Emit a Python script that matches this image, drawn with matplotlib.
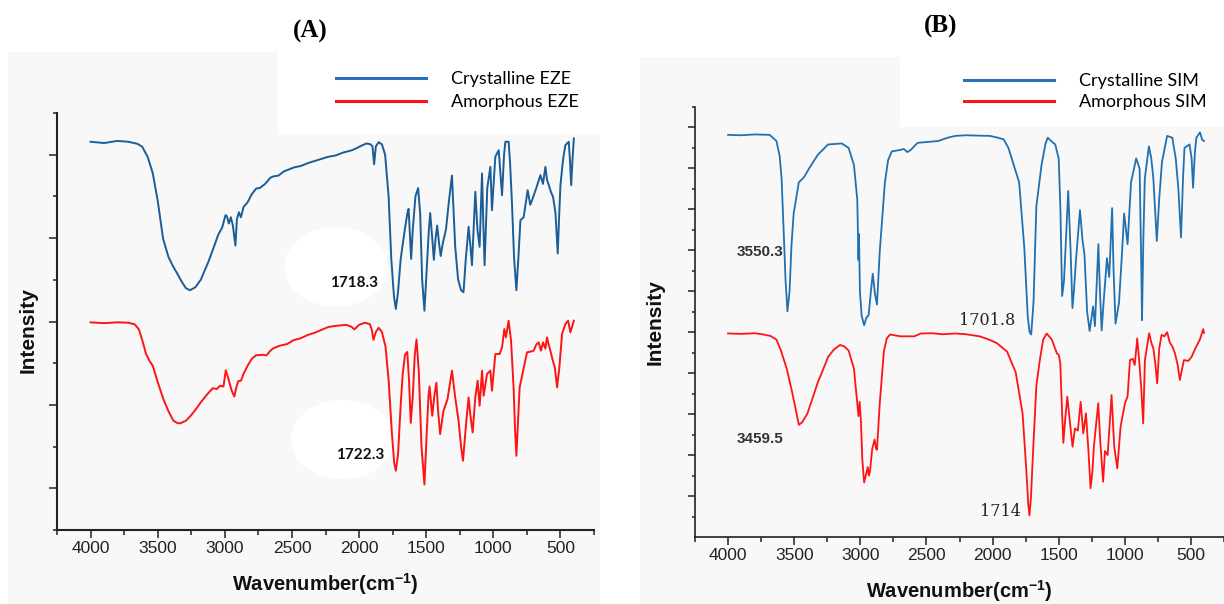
import matplotlib.pyplot as plt
from matplotlib.patches import Rectangle, Ellipse
from matplotlib.lines import Line2D
from matplotlib.ticker import MultipleLocator, FixedLocator

# FTIR spectra: (wavenumber cm-1, offset intensity)

eze_cryst = [
    (4000, 9.31), (3900, 9.28), (3800, 9.33), (3717, 9.31), (3650, 9.26), (3615, 9.19), (3575, 8.95),
    (3537, 8.56), (3500, 7.9), (3460, 6.99), (3420, 6.55), (3390, 6.35), (3358, 6.17), (3320, 5.95),
    (3290, 5.8), (3260, 5.75), (3220, 5.82), (3179, 6.0), (3120, 6.45), (3080, 6.8), (3049, 7.08),
    (3020, 7.25), (2995, 7.55), (2985, 7.53), (2970, 7.35), (2955, 7.5), (2940, 7.3), (2921, 6.82),
    (2910, 7.45), (2895, 7.62), (2880, 7.5), (2860, 7.75), (2830, 7.86), (2800, 8.05), (2766, 8.19),
    (2740, 8.2), (2700, 8.3), (2660, 8.45), (2638, 8.48), (2600, 8.5), (2560, 8.6), (2520, 8.65),
    (2480, 8.7), (2433, 8.73), (2380, 8.8), (2330, 8.85), (2280, 8.9), (2230, 8.95), (2176, 8.98),
    (2120, 9.05), (2060, 9.1), (2022, 9.15), (1980, 9.22), (1944, 9.27), (1915, 9.25), (1900, 9.2),
    (1888, 8.77), (1875, 9.2), (1854, 9.3), (1830, 9.25), (1806, 9.0), (1780, 8.0), (1760, 6.5),
    (1740, 5.6), (1726, 5.3), (1710, 5.7), (1690, 6.5), (1664, 7.1), (1640, 7.6), (1631, 7.7),
    (1620, 7.0), (1612, 6.5), (1600, 7.2), (1580, 8.0), (1560, 8.2), (1545, 7.6), (1530, 6.0),
    (1513, 5.26), (1495, 6.3), (1480, 7.2), (1470, 7.6), (1455, 7.0), (1443, 6.48), (1430, 7.0),
    (1418, 7.3), (1405, 6.9), (1392, 6.57), (1375, 6.9), (1353, 7.2), (1330, 7.9), (1308, 8.5),
    (1295, 7.6), (1284, 6.8), (1262, 6.0), (1240, 5.75), (1222, 5.7), (1205, 6.5), (1184, 7.27),
    (1170, 6.8), (1159, 6.35), (1134, 8.11), (1118, 7.2), (1102, 6.79), (1084, 8.55), (1075, 7.4),
    (1065, 6.35), (1045, 8.2), (1022, 8.71), (1010, 7.67), (985, 8.95), (960, 9.11), (948, 8.6),
    (935, 8.03), (920, 9.0), (910, 9.31), (886, 9.31), (875, 8.8), (861, 7.83), (845, 6.5),
    (828, 5.75), (812, 6.6), (798, 7.43), (774, 7.5), (744, 8.15), (725, 7.8), (711, 7.91),
    (680, 8.2), (649, 8.51), (630, 8.3), (612, 8.71), (600, 8.4), (587, 8.27), (570, 8.1),
    (555, 7.99), (537, 7.6), (520, 6.63), (510, 7.5), (500, 8.27), (480, 8.9), (463, 9.23),
    (438, 9.31), (428, 8.8), (420, 8.27), (410, 8.9), (400, 9.39),
]

eze_amorph = [
    (4000, 4.98), (3900, 4.96), (3800, 4.98), (3717, 4.97), (3670, 4.93), (3640, 4.81), (3610, 4.5),
    (3588, 4.23), (3560, 4.05), (3537, 3.94), (3500, 3.55), (3460, 3.16), (3420, 2.85), (3383, 2.62),
    (3350, 2.56), (3331, 2.56), (3290, 2.62), (3254, 2.74), (3210, 2.92), (3177, 3.07), (3140, 3.22),
    (3113, 3.32), (3090, 3.4), (3060, 3.38), (3035, 3.46), (3010, 3.44), (2993, 3.83), (2975, 3.65),
    (2950, 3.35), (2929, 3.2), (2912, 3.45), (2900, 3.57), (2880, 3.58), (2860, 3.75), (2830, 3.94),
    (2800, 4.1), (2767, 4.19), (2720, 4.2), (2689, 4.19), (2660, 4.3), (2638, 4.36), (2590, 4.42),
    (2535, 4.46), (2490, 4.55), (2433, 4.6), (2380, 4.68), (2330, 4.73), (2280, 4.8), (2227, 4.87),
    (2160, 4.9), (2099, 4.92), (2060, 4.88), (2035, 4.81), (2000, 4.92), (1957, 4.97), (1920, 4.94),
    (1905, 4.8), (1893, 4.56), (1875, 4.75), (1854, 4.85), (1830, 4.75), (1803, 4.4), (1780, 3.6),
    (1755, 2.3), (1738, 1.6), (1726, 1.42), (1710, 1.8), (1690, 3.0), (1675, 3.74), (1658, 4.2),
    (1641, 4.27), (1628, 3.6), (1615, 2.57), (1600, 3.2), (1585, 4.2), (1572, 4.57), (1555, 3.8),
    (1535, 2.0), (1513, 1.09), (1495, 2.4), (1483, 3.2), (1475, 3.44), (1462, 3.0), (1455, 2.74),
    (1440, 3.2), (1424, 3.53), (1410, 2.8), (1396, 2.3), (1371, 2.86), (1341, 3.14), (1308, 3.82),
    (1284, 3.18), (1259, 2.62), (1240, 2.0), (1226, 1.66), (1201, 2.62), (1184, 3.18), (1172, 2.78),
    (1154, 2.34), (1134, 3.18), (1117, 3.58), (1102, 2.98), (1084, 3.82), (1072, 3.22), (1047, 3.74),
    (1022, 3.82), (1010, 3.34), (985, 4.22), (953, 4.22), (935, 4.38), (918, 4.82), (906, 4.62),
    (886, 5.02), (868, 4.54), (849, 3.42), (838, 2.4), (828, 1.78), (816, 2.6), (804, 3.42),
    (778, 3.82), (749, 4.26), (720, 4.28), (699, 4.3), (680, 4.45), (662, 4.5), (645, 4.3),
    (630, 4.5), (612, 4.35), (600, 4.62), (588, 4.45), (575, 4.3), (560, 4.1), (542, 3.9),
    (525, 3.42), (508, 3.9), (488, 4.7), (463, 4.94), (443, 5.02), (426, 4.74), (400, 5.02),
]

sim_cryst = [
    (4000, 19.64), (3900, 19.62), (3800, 19.66), (3686, 19.64), (3634, 19.34), (3610, 18.6),
    (3595, 17.49), (3580, 15.0), (3565, 12.5), (3551, 11.02), (3535, 12.0), (3520, 14.3),
    (3504, 15.8), (3465, 17.32), (3426, 17.57), (3388, 17.99), (3322, 18.66), (3244, 19.17),
    (3140, 19.22), (3088, 19.0), (3048, 18.16), (3023, 16.48), (3014, 13.54), (3010, 14.8),
    (3003, 12.0), (2990, 10.8), (2971, 10.34), (2955, 10.7), (2937, 10.84), (2920, 12.0),
    (2906, 12.86), (2890, 11.9), (2874, 11.35), (2853, 13.95), (2814, 17.32), (2790, 18.4),
    (2762, 18.83), (2700, 18.9), (2671, 18.95), (2645, 18.8), (2619, 18.9), (2567, 19.25),
    (2480, 19.3), (2410, 19.34), (2340, 19.5), (2280, 19.59), (2200, 19.62), (2100, 19.6),
    (2020, 19.59), (1960, 19.5), (1916, 19.42), (1880, 19.0), (1851, 18.4), (1799, 17.32),
    (1760, 14.13), (1734, 10.76), (1720, 10.0), (1708, 9.89), (1690, 11.5), (1669, 16.14),
    (1630, 18.16), (1600, 19.2), (1583, 19.5), (1550, 19.3), (1526, 19.17), (1500, 18.49),
    (1487, 16.0), (1474, 11.77), (1460, 12.5), (1448, 14.13), (1428, 16.9), (1410, 14.0),
    (1396, 11.18), (1385, 12.0), (1370, 13.45), (1339, 15.97), (1320, 14.5), (1305, 13.79),
    (1285, 11.0), (1266, 10.06), (1240, 11.26), (1226, 10.3), (1200, 14.3), (1188, 12.0),
    (1175, 10.09), (1160, 11.5), (1135, 13.62), (1118, 12.7), (1096, 16.06), (1085, 13.0),
    (1070, 10.42), (1044, 11.44), (1020, 14.0), (1005, 15.8), (979, 14.3), (953, 17.32),
    (914, 18.49), (888, 17.99), (875, 13.0), (870, 10.59), (860, 14.5), (849, 17.49),
    (818, 19.08), (800, 18.5), (784, 17.49), (758, 14.46), (740, 16.5), (719, 18.32),
    (680, 19.59), (641, 19.5), (615, 18.49), (595, 17.0), (575, 14.63), (560, 17.5),
    (549, 19.0), (511, 19.17), (495, 18.5), (484, 17.06), (470, 18.8), (459, 19.5),
    (432, 19.76), (415, 19.4), (401, 19.34),
]

sim_amorph = [
    (4000, 9.94), (3900, 9.92), (3800, 9.95), (3740, 9.9), (3680, 9.82), (3634, 9.64), (3600, 9.1),
    (3556, 8.21), (3520, 7.2), (3487, 6.19), (3465, 5.48), (3440, 5.6), (3400, 6.03), (3360, 6.8),
    (3322, 7.54), (3280, 8.2), (3243, 8.8), (3200, 9.15), (3153, 9.38), (3120, 9.3), (3088, 9.1),
    (3048, 8.21), (3023, 6.53), (3014, 5.9), (3005, 6.6), (2995, 5.6), (2985, 3.8), (2971, 2.66),
    (2955, 3.1), (2944, 3.42), (2935, 3.0), (2927, 3.2), (2910, 4.3), (2892, 4.76), (2880, 4.3),
    (2874, 4.26), (2853, 6.53), (2822, 9.05), (2800, 9.7), (2775, 9.89), (2740, 9.85), (2697, 9.8),
    (2650, 9.8), (2593, 9.8), (2541, 9.94), (2450, 9.95), (2380, 9.9), (2280, 9.94), (2200, 9.9),
    (2098, 9.8), (2030, 9.65), (1968, 9.47), (1890, 9.05), (1825, 8.04), (1773, 6.03), (1747, 3.5),
    (1730, 1.6), (1721, 1.06), (1710, 1.9), (1695, 4.0), (1669, 7.37), (1643, 8.63), (1617, 9.64),
    (1591, 9.94), (1552, 9.64), (1513, 8.96), (1500, 8.9), (1488, 8.5), (1475, 6.2), (1465, 4.6),
    (1450, 5.8), (1435, 6.85), (1415, 5.6), (1395, 4.41), (1377, 5.3), (1355, 5.2), (1334, 6.6),
    (1314, 5.06), (1294, 6.04), (1275, 4.2), (1259, 2.38), (1245, 3.2), (1234, 4.41), (1201, 6.53),
    (1185, 4.6), (1164, 2.7), (1150, 4.2), (1130, 4.0), (1100, 6.93), (1080, 4.41), (1057, 3.35),
    (1032, 5.39), (999, 6.53), (979, 6.87), (961, 8.64), (940, 8.7), (925, 8.4), (906, 9.7),
    (890, 8.5), (875, 7.2), (861, 5.55), (848, 8.64), (816, 9.95), (800, 9.5), (784, 9.21),
    (770, 8.5), (755, 7.5), (740, 9.2), (722, 9.87), (700, 9.8), (680, 10.0), (660, 9.5),
    (640, 9.3), (621, 8.97), (600, 8.4), (584, 7.67), (553, 8.64), (520, 8.6), (495, 8.8),
    (470, 9.16), (432, 9.65), (407, 10.15), (401, 9.97),
]

legend_a = ["Crystalline EZE", "Amorphous EZE"]
legend_b = ["Crystalline SIM", "Amorphous SIM"]

# peak labels: (text, wavenumber, intensity)
peaks_a = [("1718.3", 2041, 5.93), ("1722.3", 1993, 1.79)]
peaks_b_sans = [("3550.3", 3932, 13.9), ("3459.5", 3932, 4.78)]
peaks_b_serif = [("1701.8", 2042, 10.55), ("1714", 1944, 1.25)]

xticks = [4000, 3500, 3000, 2500, 2000, 1500, 1000, 500]

plt.rcParams['font.family'] = ['Liberation Sans', 'DejaVu Sans']
plt.rcParams['mathtext.fontset'] = 'custom'
plt.rcParams['mathtext.bf'] = 'Liberation Sans:bold'
plt.rcParams['mathtext.rm'] = 'Liberation Sans:bold'
plt.rcParams['mathtext.default'] = 'bf'

W, H = 1224, 604
fig = plt.figure(figsize=(W / 100, H / 100), dpi=100)


def px_rect(x0, y0, x1, y1):
    return [x0 / W, 1 - y1 / H, (x1 - x0) / W, (y1 - y0) / H]


def add_bg(x0, y0, x1, y1, color, z):
    r = px_rect(x0, y0, x1, y1)
    fig.add_artist(Rectangle((r[0], r[1]), r[2], r[3], transform=fig.transFigure,
                             facecolor=color, edgecolor='none', zorder=z))


# grey panel backgrounds and white legend boxes
add_bg(8, 52, 600, 604, '#f8f8f8', -5)
add_bg(278, 52, 600, 134, 'white', -4)
add_bg(640, 57, 1224, 604, '#f8f8f8', -5)
add_bg(900, 57, 1224, 127, 'white', -4)

blue_a, blue_b, red = '#1a5d98', '#2170b0', '#ff1414'


def style_axes(ax, ymax, ymaj, ymin, spine_w, ylen):
    ax.set_facecolor('none')
    for s in ['top', 'right']:
        ax.spines[s].set_visible(False)
    for s in ['left', 'bottom']:
        ax.spines[s].set_linewidth(spine_w)
        ax.spines[s].set_color('#222222')
    ax.set_xlim(4250, 250)
    ax.set_ylim(0, ymax)
    ax.xaxis.set_major_locator(FixedLocator(xticks))
    ax.xaxis.set_minor_locator(MultipleLocator(250))
    ax.yaxis.set_major_locator(FixedLocator(ymaj))
    ax.yaxis.set_minor_locator(FixedLocator(ymin))
    ax.tick_params(axis='x', which='major', direction='out', length=5.5, width=1.1,
                   color='#222222', labelsize=12.5, labelcolor='#222222', pad=2.5)
    ax.tick_params(axis='x', which='minor', direction='out', length=3.5, width=1.1, color='#222222')
    ax.tick_params(axis='y', which='major', direction='out', length=ylen, width=1.1,
                   color='#222222', labelleft=False)
    ax.tick_params(axis='y', which='minor', direction='out', length=ylen * 0.45, width=1.1,
                   color='#222222')
    ax.set_xlabel('Wavenumber(cm$^{-1}$)', fontsize=14.5, fontweight='bold', color='#111111')
    ax.set_ylabel('Intensity', fontsize=15, fontweight='bold', color='#111111')


# panel A
ax1 = fig.add_axes(px_rect(57, 113, 594, 530))
style_axes(ax1, 10, [1, 3, 5, 7, 9], [0, 2, 4, 6, 8, 10], 1.5, 5.8)
ax1.plot([p[0] for p in eze_cryst], [p[1] for p in eze_cryst], color=blue_a, lw=1.4, zorder=3)
ax1.plot([p[0] for p in eze_amorph], [p[1] for p in eze_amorph], color=red, lw=1.4, zorder=3)
for label, wn, val in peaks_a:
    ax1.add_patch(Ellipse((wn + 130, val + 0.38), 770, 1.9, facecolor='white',
                          edgecolor='none', zorder=1))
    ax1.text(wn, val, label, ha='center', va='center', fontsize=11, fontweight='bold',
             family=['Lato', 'DejaVu Sans'], color='#111111', zorder=4)
ax1.xaxis.set_label_coords(0.5, -0.098)
ax1.yaxis.set_label_coords(-0.037, 0.48)
ax1.legend(handles=[Line2D([], [], color='#2a72b8', lw=2.2), Line2D([], [], color=red, lw=2.2)],
           labels=legend_a, loc='upper right', bbox_to_anchor=(588 / W, 1 - 62 / H),
           bbox_transform=fig.transFigure, frameon=False, handlelength=5.0, handletextpad=1.4,
           labelspacing=0.38, borderpad=0, prop={'family': ['Lato', 'DejaVu Sans'], 'size': 13})
fig.text(310 / W, 1 - 31 / H, '(A)', ha='center', va='center', fontsize=18, fontweight='bold',
         family=['Liberation Serif', 'DejaVu Serif'])

# panel B
ax2 = fig.add_axes(px_rect(695, 107, 1224, 537))
style_axes(ax2, 21, list(range(2, 21, 2)), list(range(1, 22, 2)), 1.2, 4.8)
ax2.plot([p[0] for p in sim_cryst], [p[1] for p in sim_cryst], color=blue_b, lw=1.3, zorder=3)
ax2.plot([p[0] for p in sim_amorph], [p[1] for p in sim_amorph], color=red, lw=1.3, zorder=3)
for label, wn, val in peaks_b_sans:
    ax2.text(wn, val, label, ha='left', va='center', fontsize=11, fontweight='bold',
             color='#333333', zorder=4)
for label, wn, val in peaks_b_serif:
    ax2.text(wn, val, label, ha='center', va='center', fontsize=11.5, color='#222222',
             family=['DejaVu Serif'], zorder=4)
ax2.xaxis.set_label_coords(0.5, -0.095)
ax2.yaxis.set_label_coords(-0.057, 0.5)
ax2.legend(handles=[Line2D([], [], color='#2a72b8', lw=2.2), Line2D([], [], color=red, lw=2.2)],
           labels=legend_b, loc='upper right', bbox_to_anchor=(1216 / W, 1 - 64 / H),
           bbox_transform=fig.transFigure, frameon=False, handlelength=5.0, handletextpad=1.4,
           labelspacing=0.28, borderpad=0, prop={'family': ['Lato', 'DejaVu Sans'], 'size': 13})
fig.text(941 / W, 1 - 26 / H, '(B)', ha='center', va='center', fontsize=18, fontweight='bold',
         family=['Liberation Serif', 'DejaVu Serif'])

fig.savefig('out.png', dpi=100)
